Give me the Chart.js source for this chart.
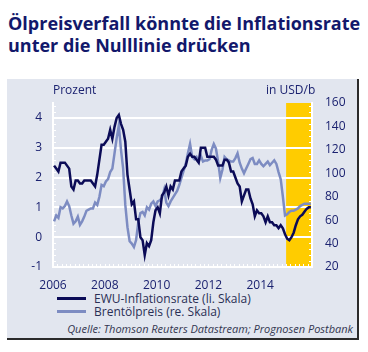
<!DOCTYPE html>
<html>
<head>
<meta charset="utf-8">
<script src="https://cdn.jsdelivr.net/npm/chart.js@4.4.1/dist/chart.umd.min.js"></script>
<style>
  body { margin: 0; width: 368px; height: 352px; background: #fff; font-family: "Open Sans", sans-serif; position: relative; overflow: hidden; }
  #title { position: absolute; left: 8px; top: 12px; font-size: 18px; font-weight: bold; line-height: 22px; color: #12186b; white-space: nowrap; }
  #panel { position: absolute; left: 7px; top: 79px; width: 350px; height: 259px; background: #e2e6ef; border-right: 2px solid #2b2b2b; border-bottom: 2px solid #2b2b2b; }
  #chart { position: absolute; left: 0; top: 0; }
  .unit { position: absolute; top: 2px; font-size: 12px; color: #1b2270; }
  #legend { position: absolute; left: 50px; top: 213px; font-size: 12px; color: #2a2f55; }
  .item { height: 13px; line-height: 13px; position: relative; padding-left: 37px; white-space: nowrap; }
  .item span { position: absolute; left: 0; top: 5px; width: 29px; height: 3px; }
  #src { position: absolute; right: 4px; top: 242px; font-size: 11px; font-style: italic; color: #33364f; white-space: nowrap; }
</style>
</head>
<body>
<div id="title">Ölpreisverfall könnte die Inflationsrate<br>unter die Nulllinie drücken</div>
<div id="panel">
  <canvas id="chart" width="350" height="210"></canvas>
  <div class="unit" style="left:46px">Prozent</div>
  <div class="unit" style="left:259px">in USD/b</div>
  <div id="legend">
    <div class="item"><span style="background:#0b0b57"></span>EWU-Inflationsrate (li. Skala)</div>
    <div class="item"><span style="background:#7d8cc2"></span>Brentölpreis (re. Skala)</div>
  </div>
  <div id="src">Quelle: Thomson Reuters Datastream; Prognosen Postbank</div>
</div>
<script>
// monthly values, Jan 2006 - Dec 2015 (2015 = Prognose)
const startYear = 2006;

const inflation = [
  2.4, 2.3, 2.2, 2.5, 2.5, 2.5, 2.4, 2.3, 1.7, 1.6, 1.9, 1.9,
  1.8, 1.8, 1.9, 1.9, 1.9, 1.9, 1.8, 1.7, 2.1, 2.6, 3.1, 3.1,
  3.2, 3.3, 3.6, 3.3, 3.7, 4.0, 4.1, 3.8, 3.6, 3.2, 2.1, 1.6,
  1.1, 1.2, 0.6, 0.6, 0.0, -0.1, -0.6, -0.2, -0.3, -0.1, 0.5, 0.9,
  1.0, 0.8, 1.4, 1.5, 1.7, 1.4, 1.7, 1.6, 1.9, 1.9, 1.9, 2.2,
  2.3, 2.4, 2.7, 2.8, 2.7, 2.7, 2.6, 2.5, 3.0, 3.0, 3.0, 2.7,
  2.7, 2.7, 2.7, 2.6, 2.4, 2.4, 2.4, 2.6, 2.6, 2.5, 2.2, 2.2,
  2.0, 1.8, 1.7, 1.2, 1.4, 1.6, 1.6, 1.3, 1.1, 0.7, 0.9, 0.8,
  0.8, 0.7, 0.5, 0.7, 0.5, 0.5, 0.4, 0.4, 0.3, 0.4, 0.3, 0.1,
  -0.05, -0.1, 0.0, 0.15, 0.4, 0.6, 0.7, 0.75, 0.85, 0.95, 1.0, 1.0
];

const brent = [
  59, 64, 62, 71, 70, 72, 76, 72, 64, 57, 59, 63,
  56, 59, 63, 68, 69, 70, 70, 75, 73, 80, 90, 89,
  93, 95, 101, 104, 117, 130, 141, 120, 104, 73, 54, 42,
  40, 37, 43, 58, 66, 67, 64, 71, 69, 74, 76, 72,
  76, 77, 79, 86, 75, 72, 76, 79, 82, 85, 90, 96,
  102, 108, 117, 125, 114, 112, 114, 110, 115, 110, 111, 111,
  112, 120, 125, 121, 110, 96, 103, 114, 112, 111, 110, 110,
  113, 117, 109, 104, 100, 104, 108, 112, 113, 108, 108, 111,
  108, 106, 108, 110, 107, 109, 111, 108, 101, 95, 80, 64,
  65, 67, 68, 68, 69, 70, 72, 73, 74, 74, 74, 74
];

const yearTicks = [2006, 2008, 2010, 2012, 2014];
const leftTicks = [-1, 0, 1, 2, 3, 4];
const rightTicks = [20, 40, 60, 80, 100, 120, 140, 160];
const forecastFrom = 2015;
const forecastTo = 2016;

const toPoints = (arr) => arr.map((v, i) => ({ x: startYear + (i + 0.5) / 12, y: v }));

const navy = '#1b2270';

// yellow forecast band, under the grid
const bandPlugin = {
  id: 'band',
  beforeDraw(chart) {
    const { ctx, chartArea, scales } = chart;
    const x0 = scales.x.getPixelForValue(forecastFrom);
    const x1 = scales.x.getPixelForValue(forecastTo);
    ctx.save();
    ctx.fillStyle = '#ffcc00';
    ctx.fillRect(x0, chartArea.top, x1 - x0, chartArea.bottom - chartArea.top);
    ctx.restore();
  }
};

// small white minor ticks along the axis lines
const minorTicks = {
  id: 'minorTicks',
  beforeDatasetsDraw(chart) {
    const { ctx, chartArea, scales } = chart;
    ctx.save();
    ctx.strokeStyle = '#ffffff';
    ctx.lineWidth = 1;
    ctx.beginPath();
    for (let v = -1; v <= 4.5001; v += 0.2) {
      const y = Math.round(scales.y.getPixelForValue(v)) + 0.5;
      ctx.moveTo(chartArea.left, y); ctx.lineTo(chartArea.left + 3, y);
      ctx.moveTo(chartArea.right, y); ctx.lineTo(chartArea.right - 3, y);
    }
    for (let m = 0; m <= 120; m += 2) {
      const x = Math.round(scales.x.getPixelForValue(startYear + m / 12)) + 0.5;
      ctx.moveTo(x, chartArea.bottom); ctx.lineTo(x, chartArea.bottom - 3);
    }
    ctx.stroke();
    ctx.restore();
  }
};

new Chart(document.getElementById('chart'), {
  type: 'line',
  data: {
    datasets: [{
      label: 'EWU-Inflationsrate (li. Skala)',
      data: toPoints(inflation),
      yAxisID: 'y',
      borderColor: '#0b0b57',
      borderWidth: 2.5,
      pointRadius: 0,
      tension: 0
    }, {
      label: 'Brentölpreis (re. Skala)',
      data: toPoints(brent),
      yAxisID: 'y2',
      borderColor: '#7d8cc2',
      borderWidth: 2.5,
      pointRadius: 0,
      tension: 0
    }]
  },
  options: {
    responsive: false,
    animation: false,
    layout: { padding: { top: 24, left: 0, right: 0, bottom: 0 } },
    plugins: { legend: { display: false }, tooltip: { enabled: false } },
    scales: {
      x: {
        type: 'linear',
        min: 2006,
        max: 2016,
        afterBuildTicks: (s) => { s.ticks = yearTicks.map(v => ({ value: v })); },
        afterFit: (s) => { s.height = 22; },
        grid: { display: false },
        border: { color: '#ffffff', width: 2 },
        ticks: {
          color: navy,
          padding: 3,
          maxRotation: 0,
          font: { family: 'Open Sans', size: 12 },
          callback: (v) => String(v)
        }
      },
      y: {
        position: 'left',
        min: -1,
        max: 4.5,
        afterBuildTicks: (s) => { s.ticks = leftTicks.map(v => ({ value: v })); },
        afterFit: (s) => { s.width = 46; },
        grid: {
          color: (c) => c.tick && c.tick.value === -1 ? 'rgba(0,0,0,0)' : '#ffffff',
          lineWidth: 2,
          drawTicks: false
        },
        border: { color: '#ffffff', width: 2 },
        ticks: { color: navy, padding: 11, font: { family: 'Open Sans', size: 12 } }
      },
      y2: {
        position: 'right',
        min: 20,
        max: 160,
        afterBuildTicks: (s) => { s.ticks = rightTicks.map(v => ({ value: v })); },
        afterFit: (s) => { s.width = 45; },
        grid: { drawOnChartArea: false, drawTicks: false },
        border: { color: '#ffffff', width: 2 },
        ticks: { color: navy, padding: 13, font: { family: 'Open Sans', size: 12 } }
      }
    }
  },
  plugins: [bandPlugin, minorTicks]
});
</script>
</body>
</html>
